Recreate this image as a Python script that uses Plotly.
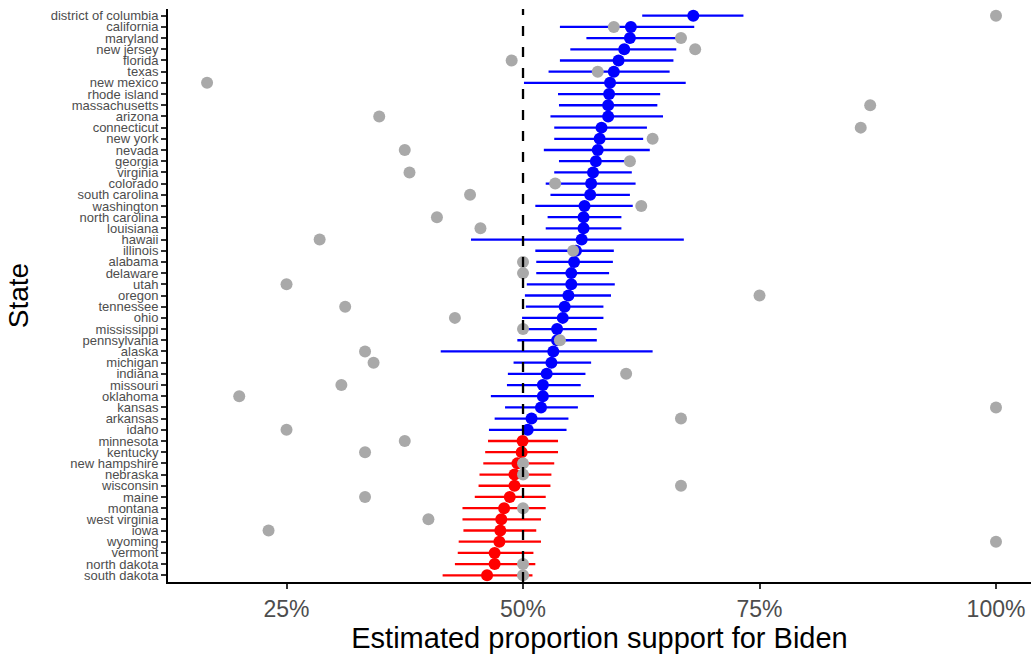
import plotly.graph_objects as go

# States ordered from highest to lowest estimated support
states = [
    "district of columbia", "california", "maryland", "new jersey", "florida",
    "texas", "new mexico", "rhode island", "massachusetts", "arizona",
    "connecticut", "new york", "nevada", "georgia", "virginia", "colorado",
    "south carolina", "washington", "north carolina", "louisiana", "hawaii",
    "illinois", "alabama", "delaware", "utah", "oregon", "tennessee", "ohio",
    "mississippi", "pennsylvania", "alaska", "michigan", "indiana", "missouri",
    "oklahoma", "kansas", "arkansas", "idaho", "minnesota", "kentucky",
    "new hampshire", "nebraska", "wisconsin", "maine", "montana",
    "west virginia", "iowa", "wyoming", "vermont", "north dakota", "south dakota",
]

# Model estimate with lower / upper interval bounds
estimate = [
    0.680, 0.614, 0.613, 0.607, 0.601, 0.596, 0.592, 0.591, 0.590, 0.590,
    0.583, 0.581, 0.579, 0.577, 0.574, 0.572, 0.571, 0.565, 0.564, 0.564,
    0.562, 0.556, 0.554, 0.551, 0.551, 0.548, 0.544, 0.542, 0.536, 0.536,
    0.532, 0.530, 0.525, 0.521, 0.521, 0.519, 0.509, 0.505, 0.4995, 0.4986,
    0.494, 0.491, 0.491, 0.486, 0.480, 0.477, 0.476, 0.475, 0.470, 0.470,
    0.462,
]
lower = [
    0.626, 0.539, 0.567, 0.550, 0.539, 0.527, 0.501, 0.537, 0.538, 0.529,
    0.533, 0.533, 0.522, 0.538, 0.533, 0.524, 0.529, 0.513, 0.526, 0.524,
    0.445, 0.513, 0.514, 0.514, 0.504, 0.502, 0.503, 0.499, 0.502, 0.494,
    0.413, 0.490, 0.484, 0.483, 0.466, 0.481, 0.470, 0.464, 0.463, 0.460,
    0.458, 0.454, 0.453, 0.449, 0.436, 0.436, 0.437, 0.432, 0.431, 0.428,
    0.415,
]
upper = [
    0.733, 0.681, 0.662, 0.662, 0.659, 0.655, 0.672, 0.645, 0.642, 0.648,
    0.631, 0.627, 0.634, 0.608, 0.615, 0.619, 0.613, 0.616, 0.604, 0.604,
    0.670, 0.596, 0.595, 0.591, 0.597, 0.593, 0.585, 0.585, 0.578, 0.578,
    0.637, 0.572, 0.566, 0.561, 0.575, 0.558, 0.548, 0.546, 0.537, 0.537,
    0.533, 0.530, 0.529, 0.524, 0.524, 0.519, 0.514, 0.519, 0.511, 0.513,
    0.510,
]
# Raw observed proportion in the sample (None where unavailable)
observed = [
    1.000, 0.596, 0.667, 0.682, 0.488, 0.579, 0.166, None, 0.867, 0.348,
    0.857, 0.637, 0.375, 0.613, 0.380, 0.534, 0.444, 0.625, 0.409, 0.455,
    0.285, 0.553, 0.500, 0.500, 0.250, 0.750, 0.312, 0.428, 0.500, 0.539,
    0.333, 0.342, 0.609, 0.308, 0.200, 1.000, 0.667, 0.250, 0.375, 0.333,
    0.500, 0.500, 0.667, 0.333, 0.500, 0.400, 0.231, 1.000, None, 0.500,
    0.500,
]

x_ticks = [0.25, 0.50, 0.75, 1.00]
x_tick_text = ["25%", "50%", "75%", "100%"]

fig = go.Figure()

# Interval + point estimate, blue where Biden leads, red otherwise
for color, lead in (("#0000FF", True), ("#FF0000", False)):
    idx = [i for i, e in enumerate(estimate) if (e > 0.5) == lead]
    fig.add_trace(go.Scatter(
        x=[estimate[i] for i in idx],
        y=[states[i] for i in idx],
        mode="markers",
        marker=dict(color=color, size=12, line=dict(width=0)),
        error_x=dict(
            type="data", symmetric=False,
            array=[upper[i] - estimate[i] for i in idx],
            arrayminus=[estimate[i] - lower[i] for i in idx],
            color=color, thickness=2.3, width=0,
        ),
        showlegend=False,
        hoverinfo="x+y",
    ))

# Observed sample proportions
fig.add_trace(go.Scatter(
    x=observed, y=states, mode="markers",
    marker=dict(color="#A9A9A9", size=12, line=dict(width=0)),
    showlegend=False, hoverinfo="x+y",
))

# 50% reference line
fig.add_shape(
    type="line", xref="x", yref="paper", x0=0.5, x1=0.5, y0=0, y1=1,
    line=dict(color="black", width=2.3, dash="10px,11px"), layer="above",
)

fig.update_layout(
    width=1031, height=654,
    margin=dict(l=168, r=0, t=9, b=72),
    paper_bgcolor="white", plot_bgcolor="white",
    font=dict(family="Liberation Sans, Arial, sans-serif", color="black"),
    xaxis=dict(
        range=[0.1247, 1.037],
        tickvals=x_ticks, ticktext=x_tick_text,
        tickfont=dict(size=23, color="#4D4D4D"),
        ticks="outside", ticklen=5, tickwidth=1.5, tickcolor="#333333",
        showline=True, linecolor="black", linewidth=2,
        showgrid=False, zeroline=False,
        title=dict(text="Estimated proportion support for Biden",
                   font=dict(size=29, color="black"), standoff=1),
    ),
    yaxis=dict(
        type="category",
        categoryorder="array", categoryarray=states[::-1],
        tickmode="linear", dtick=1,
        range=[-0.6, len(states) - 0.4],
        tickfont=dict(size=13, color="#4D4D4D"),
        ticks="outside", ticklen=5, tickwidth=1.5, tickcolor="#333333",
        showline=True, linecolor="black", linewidth=2,
        showgrid=False, zeroline=False,
        title=dict(text="State", font=dict(size=28, color="black"), standoff=14),
    ),
)

fig.write_html("out.html")
